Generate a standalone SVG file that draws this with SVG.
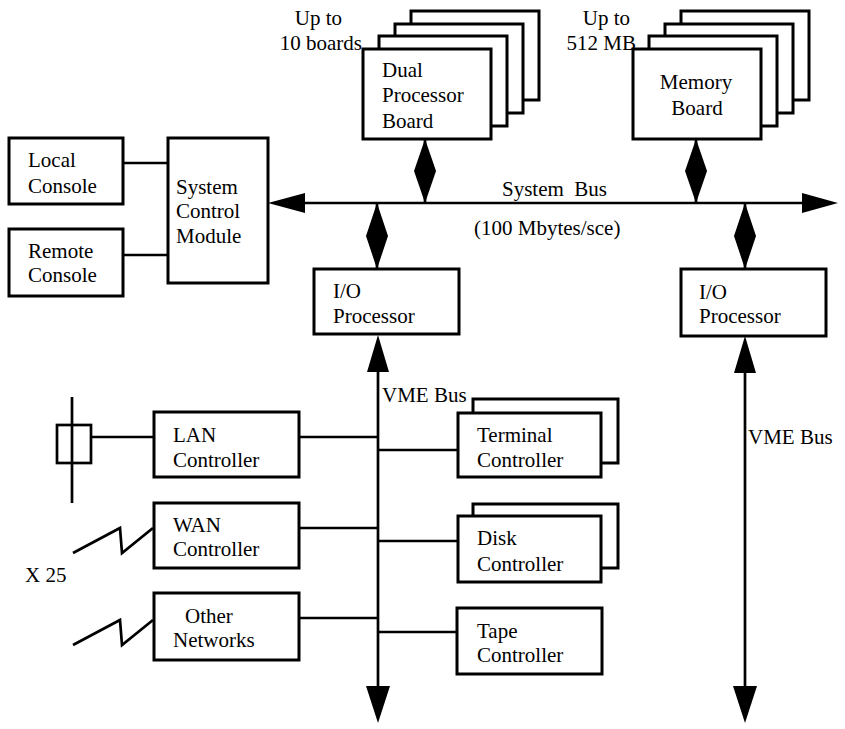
<svg xmlns="http://www.w3.org/2000/svg" width="845" height="729" viewBox="0 0 845 729">
<style>
text{font-family:"Liberation Serif","DejaVu Serif",serif;font-size:21px;fill:#000}
.b{fill:#fff;stroke:#000;stroke-width:3}
.l{fill:none;stroke:#000;stroke-width:2.7}
.h{fill:#000;stroke:none}
</style>
<rect width="845" height="729" fill="#fff"/>
<g id="connectors">
<line class="l" x1="123" y1="163" x2="168" y2="163"/>
<line class="l" x1="123" y1="255" x2="168" y2="255"/>
<line class="l" x1="290" y1="203" x2="815" y2="203"/>
<polygon class="h" points="268,203 305,193 305,213"/>
<polygon class="h" points="838,203 802,193 802,213"/>
<line class="l" x1="425" y1="139" x2="425" y2="203"/>
<polygon class="h" points="425,139 436,171 425,203 414,171"/>
<line class="l" x1="696" y1="139" x2="696" y2="203"/>
<polygon class="h" points="696,139 707,171 696,203 685,171"/>
<line class="l" x1="377" y1="203" x2="377" y2="269"/>
<polygon class="h" points="377,203 388,236 377,269 366,236"/>
<line class="l" x1="745" y1="203" x2="745" y2="269"/>
<polygon class="h" points="745,203 756,236 745,269 734,236"/>
<line class="l" x1="378" y1="360" x2="378" y2="700"/>
<polygon class="h" points="378,335 389,372 367,372"/>
<polygon class="h" points="378,723 390,686 366,686"/>
<line class="l" x1="745" y1="360" x2="745" y2="700"/>
<polygon class="h" points="745,336 756,373 734,373"/>
<polygon class="h" points="745,723 757,686 733,686"/>
<line class="l" x1="299" y1="437" x2="378" y2="437"/>
<line class="l" x1="378" y1="450" x2="458" y2="450"/>
<line class="l" x1="299" y1="528" x2="378" y2="528"/>
<line class="l" x1="378" y1="541" x2="458" y2="541"/>
<line class="l" x1="299" y1="618" x2="378" y2="618"/>
<line class="l" x1="378" y1="632" x2="457" y2="632"/>
<line class="l" x1="72" y1="397" x2="72" y2="503"/>
<rect class="l" x="57" y="425" width="34" height="38"/>
<line class="l" x1="91" y1="437" x2="154" y2="437"/>
<polyline class="l" points="73,553 120,528 122,553 153,528"/>
<polyline class="l" points="73,645 120,620 122,645 153,620"/>
</g>
<g id="dual-processor-board">
<rect class="b" x="411" y="11" width="128" height="89"/>
<rect class="b" x="395" y="24" width="128" height="89"/>
<rect class="b" x="379" y="36" width="128" height="90"/>
<rect class="b" x="363" y="49" width="128" height="90"/>
<text x="382" y="77">Dual</text>
<text x="382" y="102">Processor</text>
<text x="382" y="128">Board</text>
<text x="342" y="25" text-anchor="end">Up to</text>
<text x="362" y="50" text-anchor="end">10 boards</text>
</g>
<g id="memory-board">
<rect class="b" x="681" y="11" width="128" height="89"/>
<rect class="b" x="665" y="24" width="128" height="89"/>
<rect class="b" x="649" y="36" width="128" height="90"/>
<rect class="b" x="633" y="49" width="128" height="90"/>
<text x="696" y="89" text-anchor="middle">Memory</text>
<text x="697" y="115" text-anchor="middle">Board</text>
<text x="630" y="25" text-anchor="end">Up to</text>
<text x="636" y="50" text-anchor="end">512 MB</text>
</g>
<g id="system-bus-label">
<text x="502" y="196" style="white-space:pre">System  Bus</text>
<text x="474" y="235">(100 Mbytes/sce)</text>
</g>
<g id="local-console">
<rect class="b" x="9" y="138" width="114" height="66"/>
<text x="28" y="167">Local</text>
<text x="28" y="193">Console</text>
</g>
<g id="remote-console">
<rect class="b" x="9" y="229" width="114" height="67"/>
<text x="28" y="258">Remote</text>
<text x="28" y="282">Console</text>
</g>
<g id="system-control-module">
<rect class="b" x="168" y="138" width="100" height="145"/>
<text x="176" y="194">System</text>
<text x="176" y="218">Control</text>
<text x="176" y="243">Module</text>
</g>
<g id="io-processor-1">
<rect class="b" x="314" y="269" width="145" height="65"/>
<text x="333" y="298">I/O</text>
<text x="333" y="323">Processor</text>
</g>
<g id="io-processor-2">
<rect class="b" x="681" y="269" width="145" height="67"/>
<text x="699" y="299">I/O</text>
<text x="699" y="323">Processor</text>
</g>
<g id="vme-labels">
<text x="382" y="402">VME Bus</text>
<text x="748" y="444">VME Bus</text>
</g>
<g id="lan-controller">
<rect class="b" x="154" y="412" width="145" height="65"/>
<text x="173" y="442">LAN</text>
<text x="173" y="467">Controller</text>
</g>
<g id="wan-controller">
<rect class="b" x="154" y="503" width="145" height="65"/>
<text x="173" y="532">WAN</text>
<text x="173" y="556">Controller</text>
<text x="25" y="582">X 25</text>
</g>
<g id="other-networks">
<rect class="b" x="154" y="593" width="145" height="67"/>
<text x="185" y="623">Other</text>
<text x="173" y="647">Networks</text>
</g>
<g id="terminal-controller">
<rect class="b" x="473" y="399" width="145" height="64"/>
<rect class="b" x="458" y="413" width="143" height="64"/>
<text x="477" y="442">Terminal</text>
<text x="477" y="467">Controller</text>
</g>
<g id="disk-controller">
<rect class="b" x="473" y="504" width="145" height="64"/>
<rect class="b" x="458" y="516" width="143" height="66"/>
<text x="477" y="545">Disk</text>
<text x="477" y="571">Controller</text>
</g>
<g id="tape-controller">
<rect class="b" x="457" y="608" width="145" height="66"/>
<text x="477" y="638">Tape</text>
<text x="477" y="662">Controller</text>
</g>
</svg>
